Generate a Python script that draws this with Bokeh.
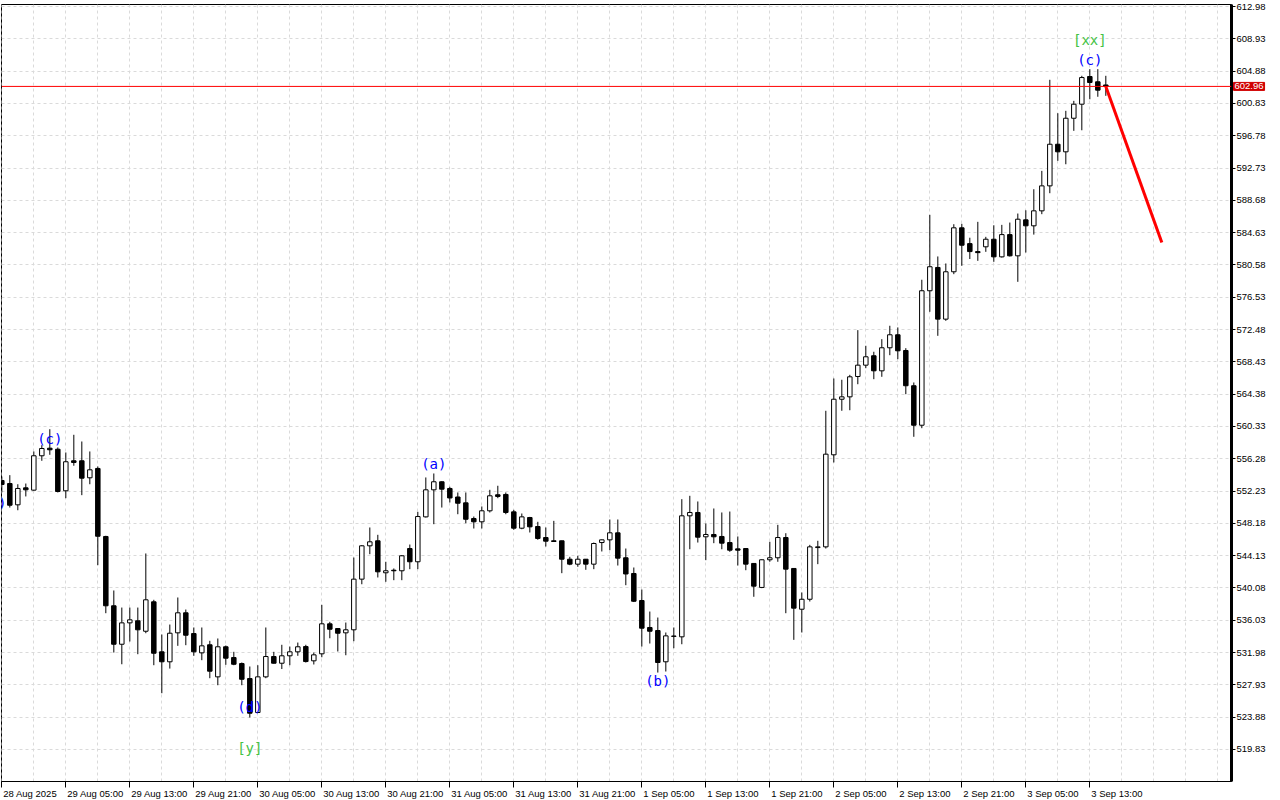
from bokeh.plotting import figure
from bokeh.models import FixedTicker, Span, Label, Range1d, PrintfTickFormatter, ColumnDataSource, LinearAxis
from bokeh.core.properties import value
from bokeh.embed import file_html
from bokeh.resources import INLINE

# ---------------- data (hourly bars, 28 Aug 21:00 .. 3 Sep 15:00) ----------------
opens = [553.55, 553.17, 550.50, 552.63, 552.34, 556.65, 557.60, 557.47, 552.26, 556.02,
         556.02, 553.89, 555.06, 546.53, 537.84, 533.02, 535.70, 535.96, 534.65, 538.34,
         532.07, 530.82, 534.45, 536.96, 534.36, 531.94, 532.95, 528.93, 532.70, 531.35,
         530.60, 528.72, 524.46, 528.93, 531.48, 530.64, 531.57, 532.07, 532.73, 530.94,
         531.82, 535.58, 534.99, 534.45, 534.83, 541.18, 545.36, 545.99, 541.98, 542.30,
         542.23, 545.02, 543.36, 548.99, 552.38, 553.39, 552.55, 551.48, 550.75, 548.78,
         548.37, 549.75, 551.76, 551.80, 549.62, 547.57, 548.91, 547.78, 546.40, 545.99,
         545.99, 543.68, 543.06, 543.68, 543.06, 545.77, 546.11, 546.99, 543.86, 541.89,
         538.50, 535.12, 534.74, 530.82, 534.00, 533.95, 549.12, 549.54, 546.49, 546.78,
         546.53, 545.77, 544.98, 545.02, 543.15, 540.14, 543.61, 543.86, 546.40, 542.52,
         537.41, 538.66, 545.14, 545.23, 556.77, 563.74, 564.04, 566.59, 568.01, 569.19,
         567.30, 570.19, 571.82, 569.85, 565.43, 560.48, 577.34, 580.26, 573.78, 579.72,
         585.23, 583.25, 582.25, 582.85, 583.80, 581.59, 584.38, 581.72, 586.23, 585.48,
         587.36, 590.49, 595.71, 594.76, 598.97, 600.73, 604.20, 603.54, 603.14]
highs = [554.05, 554.22, 553.08, 553.17, 557.19, 557.98, 559.98, 557.69, 557.06, 559.28,
         558.44, 557.19, 555.31, 546.62, 539.76, 537.62, 537.62, 537.62, 544.40, 538.59,
         534.24, 535.49, 538.88, 537.37, 535.12, 535.12, 533.45, 533.74, 532.86, 532.07,
         530.73, 530.23, 530.39, 535.12, 532.07, 532.95, 532.73, 533.23, 532.95, 531.98,
         537.96, 535.83, 535.05, 535.74, 543.89, 545.45, 547.66, 546.74, 543.36, 542.52,
         544.20, 545.52, 549.62, 553.93, 554.43, 553.45, 552.76, 552.05, 552.05, 549.03,
         550.29, 552.38, 552.89, 552.05, 549.87, 549.41, 548.99, 548.37, 547.66, 548.49,
         546.00, 543.98, 544.11, 543.70, 545.77, 546.15, 548.66, 548.66, 545.02, 542.64,
         539.88, 537.12, 536.37, 534.49, 535.12, 551.21, 551.63, 550.92, 548.16, 550.04,
         549.54, 549.66, 546.53, 545.05, 543.20, 543.65, 545.86, 547.99, 546.94, 542.55,
         539.51, 545.48, 545.99, 562.29, 566.34, 566.18, 566.80, 572.40, 570.44, 569.69,
         571.27, 572.95, 572.74, 570.14, 565.84, 578.72, 586.86, 581.64, 580.76, 585.68,
         585.73, 583.99, 585.98, 584.10, 585.55, 585.60, 585.89, 587.02, 587.43, 590.07,
         592.37, 603.79, 599.60, 599.90, 601.15, 604.29, 605.12, 605.12, 604.29]
lows = [552.05, 550.16, 549.82, 551.55, 552.26, 556.02, 556.77, 552.05, 551.33, 555.40,
        551.71, 553.08, 542.93, 536.91, 531.98, 530.51, 533.36, 531.77, 534.40, 530.39,
        526.88, 529.97, 532.82, 532.90, 531.57, 531.02, 528.76, 527.88, 530.44, 530.39,
        527.88, 523.83, 524.40, 528.76, 530.60, 529.91, 530.39, 531.57, 530.73, 530.48,
        531.39, 533.77, 532.11, 531.64, 533.40, 540.54, 544.31, 541.39, 540.85, 541.05,
        541.05, 542.43, 542.43, 548.91, 548.07, 550.16, 550.79, 549.32, 548.19, 547.53,
        547.53, 549.54, 551.33, 549.32, 547.37, 547.44, 547.03, 546.12, 545.27, 545.86,
        541.93, 542.93, 542.73, 542.35, 542.43, 544.65, 544.81, 542.89, 540.42, 538.31,
        532.73, 533.11, 529.47, 529.60, 532.52, 533.02, 544.93, 545.77, 543.56, 545.69,
        544.93, 544.61, 542.89, 542.30, 538.97, 540.05, 543.36, 543.36, 536.91, 533.57,
        534.49, 538.38, 543.06, 545.02, 555.81, 562.29, 562.36, 565.62, 567.63, 566.25,
        566.55, 569.26, 568.76, 564.37, 559.03, 560.11, 574.70, 571.69, 573.57, 579.42,
        580.47, 581.32, 581.09, 582.22, 580.97, 581.50, 581.63, 578.46, 582.13, 584.38,
        586.94, 589.57, 593.63, 593.20, 597.39, 597.46, 601.35, 601.66, 601.78]
closes = [553.05, 550.45, 552.55, 552.38, 556.65, 557.56, 557.40, 552.17, 555.90, 555.81,
          553.84, 554.89, 546.56, 537.84, 533.02, 535.70, 536.08, 534.83, 538.59, 531.89,
          530.82, 534.40, 536.96, 534.15, 532.07, 532.82, 529.64, 532.70, 531.27, 530.51,
          528.63, 524.37, 528.93, 531.48, 530.64, 531.57, 532.07, 532.70, 530.85, 531.69,
          535.58, 534.90, 534.40, 534.83, 541.18, 545.36, 545.86, 542.10, 542.23, 542.23,
          544.11, 543.36, 549.03, 552.38, 553.39, 552.46, 551.36, 550.70, 548.69, 548.37,
          549.75, 551.63, 551.55, 549.54, 547.57, 548.99, 547.74, 546.28, 545.94, 545.90,
          543.68, 543.06, 543.68, 543.06, 545.65, 546.11, 546.99, 543.81, 541.83, 538.41,
          535.03, 534.65, 530.73, 534.07, 534.05, 549.12, 549.54, 546.44, 546.78, 546.49,
          545.69, 544.81, 544.81, 543.06, 540.30, 543.61, 543.86, 546.40, 542.43, 537.54,
          538.66, 545.23, 545.23, 556.85, 563.74, 564.04, 566.55, 568.01, 569.06, 567.30,
          570.19, 571.82, 569.81, 565.43, 560.48, 577.34, 580.35, 573.78, 579.72, 585.23,
          583.05, 582.25, 582.12, 583.80, 581.59, 584.38, 581.72, 586.31, 585.48, 587.36,
          590.49, 595.71, 594.76, 598.97, 600.73, 604.07, 603.45, 602.49, 602.96]

time_labels = ["28 Aug 2025", "29 Aug 05:00", "29 Aug 13:00", "29 Aug 21:00",
               "30 Aug 05:00", "30 Aug 13:00", "30 Aug 21:00", "31 Aug 05:00",
               "31 Aug 13:00", "31 Aug 21:00", "1 Sep 05:00", "1 Sep 13:00",
               "1 Sep 21:00", "2 Sep 05:00", "2 Sep 13:00", "2 Sep 21:00",
               "3 Sep 05:00", "3 Sep 13:00"]
bars_per_label = 8

price_ticks = [519.83, 523.88, 527.93, 531.98, 536.03, 540.08, 544.13, 548.18,
               552.23, 556.28, 560.33, 564.38, 568.43, 572.48, 576.53, 580.58,
               584.63, 588.68, 592.73, 596.78, 600.83, 604.88, 608.93, 612.98]

current_price = 602.96

# forecast arrow (bar index, price)
forecast_x = [138, 145]
forecast_y = [602.96, 583.39]

# wave labels
wave_x = [-1, 6, 31, 54, 82, 136]
wave_y = [550.79, 558.81, 525.09, 555.56, 528.35, 606.21]
wave_text = ["(b)", "(c)", "(d)", "(a)", "(b)", "(c)"]
degree_x = [31, 136]
degree_y = [520.07, 608.84]
degree_text = ["[y]", "[xx]"]

# ---------------- figure ----------------
n = len(opens)
idx = list(range(n))
BAR_PX = 8.0          # pixels per bar on the time scale
FONT_PX = 9.5

p = figure(frame_width=1230, frame_height=777,
           x_range=Range1d(-0.04, 153.71), y_range=Range1d(515.81, 613.23),
           y_axis_location="right", output_backend="svg", toolbar_location=None,
           min_border_left=1, min_border_top=4, min_border_bottom=0, min_border_right=0,
           background_fill_color="white", border_fill_color="white")
p.outline_line_color = "black"
p.outline_line_width = 1

# grid
grid_color = "#dadada"
p.xgrid.ticker = FixedTicker(ticks=list(range(0, 156, 4)), minor_ticks=[])
p.ygrid.ticker = FixedTicker(ticks=price_ticks, minor_ticks=[])
for g in (p.xgrid, p.ygrid):
    g.grid_line_color = grid_color
    g.grid_line_dash = "3 3"
    g.grid_line_width = 1

# x axis: tick marks on the bars
xt = [i * bars_per_label for i in range(len(time_labels))]
ax = p.xaxis[0]
ax.ticker = FixedTicker(ticks=xt, minor_ticks=[])
ax.major_label_overrides = {t: "" for t in xt}
ax.major_label_text_font_size = "0px"
ax.major_label_standoff = 0
ax.major_tick_out = 6
ax.major_tick_in = 0
ax.minor_tick_out = 0
ax.axis_line_color = "black"
ax.major_tick_line_color = "black"

# x axis labels: text starts just right of each tick (MetaTrader style)
char_w = {d: 0.556 for d in "0123456789"}
char_w.update({" ": 0.278, ":": 0.278, "A": 0.667, "S": 0.667, "u": 0.556, "g": 0.556,
               "e": 0.556, "p": 0.556})
def text_width(s):
    return sum(char_w.get(c, 0.556) for c in s) * FONT_PX

label_pos = [t + (text_width(s) / 2 + 1.5) / BAR_PX for t, s in zip(xt, time_labels)]
lab_axis = LinearAxis(ticker=FixedTicker(ticks=label_pos, minor_ticks=[]),
                      major_label_overrides={t: s for t, s in zip(label_pos, time_labels)},
                      axis_line_color=None, major_tick_line_color=None,
                      minor_tick_line_color=None, major_tick_out=0, major_tick_in=0,
                      minor_tick_out=0, minor_tick_in=0, major_label_standoff=0,
                      major_label_text_font="Liberation Sans",
                      major_label_text_font_size="%.1fpx" % FONT_PX,
                      major_label_text_color="black")
p.add_layout(lab_axis, "below")

# y axis
p.yaxis.ticker = FixedTicker(ticks=price_ticks, minor_ticks=[])
p.yaxis.formatter = PrintfTickFormatter(format="%.2f")
p.yaxis.major_tick_out = 4
p.yaxis.major_tick_in = 0
p.yaxis.minor_tick_out = 0
p.yaxis.major_label_standoff = 1
p.yaxis.axis_line_color = "black"
p.yaxis.axis_line_width = 3
p.yaxis.major_label_text_font = "Liberation Sans"
p.yaxis.major_label_text_font_size = "%.1fpx" % FONT_PX
p.yaxis.major_label_text_color = "black"

# candles
up = [i for i in idx if closes[i] >= opens[i]]
dn = [i for i in idx if closes[i] < opens[i]]
p.segment(x0=idx, y0=lows, x1=idx, y1=highs, line_color="black", line_width=1)
src_up = ColumnDataSource(dict(x=up, top=[closes[i] for i in up], bottom=[opens[i] for i in up]))
src_dn = ColumnDataSource(dict(x=dn, top=[opens[i] for i in dn], bottom=[closes[i] for i in dn]))
p.vbar(x="x", top="top", bottom="bottom", width=0.56, source=src_up,
       fill_color="white", line_color="black", line_width=1)
p.vbar(x="x", top="top", bottom="bottom", width=0.56, source=src_dn,
       fill_color="black", line_color="black", line_width=1)

# current price line
p.add_layout(Span(location=current_price, dimension="width", line_color="#ff0000", line_width=1))

# forecast
p.line(x=forecast_x, y=forecast_y, line_color="#ff0000", line_width=3)

# wave labels
p.text(x=wave_x, y=wave_y, text=wave_text, text_color="#0000ff",
       text_font=value("DejaVu Sans Mono"), text_font_size="14px",
       text_align="center", text_baseline="middle")
p.text(x=degree_x, y=degree_y, text=degree_text, text_color="#44c244",
       text_font=value("DejaVu Sans Mono"), text_font_size="14px",
       text_align="center", text_baseline="middle")

# price tag on the scale
tag_kw = dict(x=153.71, y=current_price, text="%.2f" % current_price, x_offset=2,
              text_align="left", text_baseline="middle", text_color="white",
              text_font="Liberation Sans", text_font_size="%.1fpx" % FONT_PX,
              background_fill_color="#d00000", border_line_color="#d00000")
if "padding" in Label.properties():
    tag_kw["padding"] = 1
tag = Label(**tag_kw)
p.add_layout(tag, "right")

open("out.html", "w").write(file_html(p, INLINE))
